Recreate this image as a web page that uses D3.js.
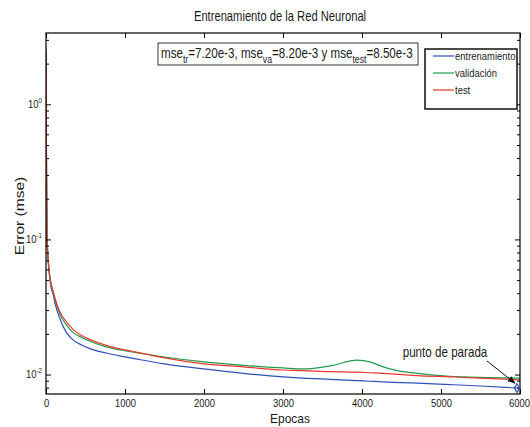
<!DOCTYPE html>
<html>
<head>
<meta charset="utf-8">
<script src="https://cdn.jsdelivr.net/npm/d3@7"></script>
<style>
  body { margin: 0; background: #fff; }
  text { font-family: "Liberation Sans", Arial, sans-serif; }
</style>
</head>
<body>
<div id="chart"></div>
<script>
// values
const epochs = [0, 4, 12, 20, 30, 45, 60, 93, 114, 177, 262, 342, 450, 557, 772, 980, 1190, 1500, 2000, 2500, 3000, 3250, 3600, 3940, 4100, 4265, 4480, 4700, 5110, 5500, 6000];
const trainErr = [2.4, 0.6, 0.1, 0.082, 0.066, 0.054, 0.046, 0.039, 0.034, 0.026, 0.0205, 0.0182, 0.0167, 0.0157, 0.0145, 0.0137, 0.0130, 0.0121, 0.0111, 0.0103, 0.0097, 0.0095, 0.0093, 0.0091, 0.0090, 0.0089, 0.0088, 0.0087, 0.0085, 0.0083, 0.0080];
const valErr = [2.5, 0.7, 0.11, 0.085, 0.068, 0.055, 0.048, 0.0405, 0.036, 0.028, 0.0233, 0.0207, 0.0190, 0.0178, 0.0161, 0.0152, 0.0145, 0.0136, 0.0125, 0.0118, 0.0113, 0.0111, 0.0117, 0.0129, 0.0125, 0.0115, 0.0107, 0.0103, 0.0098, 0.0096, 0.0095];
const testErr = [2.6, 0.7, 0.11, 0.086, 0.069, 0.056, 0.049, 0.041, 0.037, 0.0292, 0.0246, 0.0218, 0.0196, 0.0183, 0.0165, 0.0154, 0.0146, 0.0134, 0.0121, 0.0115, 0.0109, 0.0108, 0.0106, 0.0105, 0.0104, 0.0103, 0.0101, 0.0099, 0.0097, 0.0095, 0.0092];
const seriesNames = ['entrenamiento', 'validación', 'test'];
const seriesColors = ['#3050b8', '#1f9a4e', '#e8372c'];
const xTickValues = [0, 1000, 2000, 3000, 4000, 5000, 6000];
const yMajorTicks = [1e-2, 1e-1, 1e0];
const stopPoint = { epoch: 6000, value: 0.0080 };

let config = {
  width: 530,
  height: 427,
  squeeze: 0.82, // the reference lettering is horizontally narrow
  plot: { left: 46, right: 520, top: 33, bottom: 394 }
};

let svg = d3.select('#chart')
  .append('svg')
  .attr('width', config.width)
  .attr('height', config.height);

// text placed at (x, y) and squeezed horizontally around that point
function addText(parent, x, y, str, size, anchor, sx) {
  return parent.append('g')
    .attr('transform', `translate(${x}, ${y}) scale(${sx || config.squeeze}, 1)`)
    .append('text')
    .attr('text-anchor', anchor || 'start')
    .attr('font-size', size)
    .attr('fill', '#1a1a1a')
    .text(str);
}

let xscale = d3.scaleLinear()
  .domain([0, 6000])
  .range([config.plot.left, config.plot.right]);

let yscale = d3.scaleLog()
  .domain([0.00724, 3.4])
  .range([config.plot.bottom, config.plot.top]);

// curves
let series = [trainErr, valErr, testErr];
let line = d3.line()
  .x((d, i) => xscale(epochs[i]))
  .y(d => yscale(d))
  .curve(d3.curveMonotoneX);

let defs = svg.append('defs');
defs.append('clipPath').attr('id', 'clip')
  .append('rect')
  .attr('x', config.plot.left).attr('y', config.plot.top)
  .attr('width', config.plot.right - config.plot.left)
  .attr('height', config.plot.bottom - config.plot.top);

svg.append('g')
  .attr('clip-path', 'url(#clip)')
  .selectAll('path')
  .data(series)
  .enter()
  .append('path')
  .attr('d', d => line(d))
  .attr('fill', 'none')
  .attr('stroke', (d, i) => seriesColors[i])
  .attr('stroke-width', 1.2);

// axes box
svg.append('rect')
  .attr('x', config.plot.left).attr('y', config.plot.top)
  .attr('width', config.plot.right - config.plot.left)
  .attr('height', config.plot.bottom - config.plot.top)
  .attr('fill', 'none')
  .attr('stroke', '#000')
  .attr('stroke-width', 1.2);

// x ticks (bottom + top, pointing inward)
let bottomAxis = d3.axisBottom(xscale)
  .tickValues(xTickValues)
  .tickSizeInner(-5)
  .tickSizeOuter(0)
  .tickPadding(5)
  .tickFormat(d3.format('d'));
let xaxis = svg.append('g')
  .attr('transform', `translate(0, ${config.plot.bottom})`)
  .call(bottomAxis);
xaxis.select('.domain').remove();
xaxis.selectAll('text')
  .attr('font-size', 11.5)
  .attr('fill', '#1a1a1a')
  .attr('font-family', '"Liberation Sans", Arial, sans-serif')
  .attr('transform', d => `translate(${d === 6000 ? -1 : 0}, 0) scale(${config.squeeze}, 1)`);

let topAxis = d3.axisTop(xscale)
  .tickValues(xTickValues)
  .tickSizeInner(-5)
  .tickSizeOuter(0)
  .tickFormat('');
let xaxisTop = svg.append('g')
  .attr('transform', `translate(0, ${config.plot.top})`)
  .call(topAxis);
xaxisTop.select('.domain').remove();

// y ticks (log, major + minor), left and right
let yTicksAll = yscale.ticks();
let yg = svg.append('g');
[config.plot.left, config.plot.right].forEach((x0, side) => {
  let dir = side === 0 ? 1 : -1;
  yg.selectAll('.ytick' + side)
    .data(yTicksAll)
    .enter()
    .append('line')
    .attr('x1', x0)
    .attr('x2', d => x0 + dir * (yMajorTicks.includes(d) ? 5 : 3))
    .attr('y1', d => yscale(d))
    .attr('y2', d => yscale(d))
    .attr('stroke', '#000')
    .attr('stroke-width', 1);
});

yMajorTicks.forEach(v => {
  let t = addText(yg, config.plot.left - 4, yscale(v) + 3, '', 11.5, 'end');
  let p = Math.round(Math.log10(v));
  t.append('tspan').text('10');
  t.append('tspan')
    .attr('dy', -5)
    .attr('font-size', 7.5)
    .text(p === 0 ? '0' : '-' + Math.abs(p));
});

// titles
addText(svg, 280, 21, 'Entrenamiento de la Red Neuronal', 14, 'middle', 0.8);
addText(svg, 290, 423, 'Epocas', 13, 'middle', 0.92);

svg.append('g')
  .attr('transform', 'translate(24, 216) rotate(-90) scale(1, 0.85)')
  .append('text')
  .attr('text-anchor', 'middle')
  .attr('font-size', 15.5)
  .attr('fill', '#1a1a1a')
  .text('Error (mse)');

// mse annotation box
svg.append('rect')
  .attr('x', 158).attr('y', 43)
  .attr('width', 260).attr('height', 22)
  .attr('fill', '#fff')
  .attr('stroke', '#333')
  .attr('stroke-width', 1);

let mseParts = [
  ['mse', 0], ['tr', 1], ['=7.20e-3, mse', 0], ['va', 1],
  ['=8.20e-3 y mse', 0], ['test', 1], ['=8.50e-3', 0]
];
let mseText = addText(svg, 161, 58, '', 14, 'start', 0.83);
let prevSub = 0;
mseParts.forEach(p => {
  mseText.append('tspan')
    .attr('dy', p[1] === prevSub ? 0 : (p[1] ? 5 : -5))
    .attr('font-size', p[1] ? 10.5 : 14)
    .text(p[0]);
  prevSub = p[1];
});

// legend
let legend = svg.append('g');
legend.append('rect')
  .attr('x', 425).attr('y', 49)
  .attr('width', 92).attr('height', 60)
  .attr('fill', '#fff')
  .attr('stroke', '#111')
  .attr('stroke-width', 1.5);
seriesNames.forEach((name, i) => {
  let ly = 56 + i * 17;
  legend.append('line')
    .attr('x1', 433).attr('x2', 454)
    .attr('y1', ly).attr('y2', ly)
    .attr('stroke', seriesColors[i])
    .attr('stroke-width', 1.2);
  addText(legend, 455, ly + 4, name, 11, 'start', 0.86);
});

// stopping point
let sx = xscale(stopPoint.epoch) - 3;
let sy = yscale(stopPoint.value);
svg.append('path')
  .attr('d', d3.symbol(d3.symbolDiamond, 22)())
  .attr('transform', `translate(${sx}, ${sy})`)
  .attr('fill', 'none')
  .attr('stroke', seriesColors[0])
  .attr('stroke-width', 1.2);

defs.append('marker')
  .attr('id', 'arrow')
  .attr('viewBox', '0 0 10 10')
  .attr('refX', 9).attr('refY', 5)
  .attr('markerWidth', 8).attr('markerHeight', 8)
  .attr('orient', 'auto')
  .append('path')
  .attr('d', 'M0,1 L10,5 L0,9 Z')
  .attr('fill', '#111');

svg.append('line')
  .attr('x1', 487).attr('y1', 361)
  .attr('x2', sx - 2).attr('y2', sy - 5)
  .attr('stroke', '#111')
  .attr('stroke-width', 1)
  .attr('marker-end', 'url(#arrow)');

addText(svg, 445, 357, 'punto de parada', 14, 'middle', 0.83);
</script>
</body>
</html>
